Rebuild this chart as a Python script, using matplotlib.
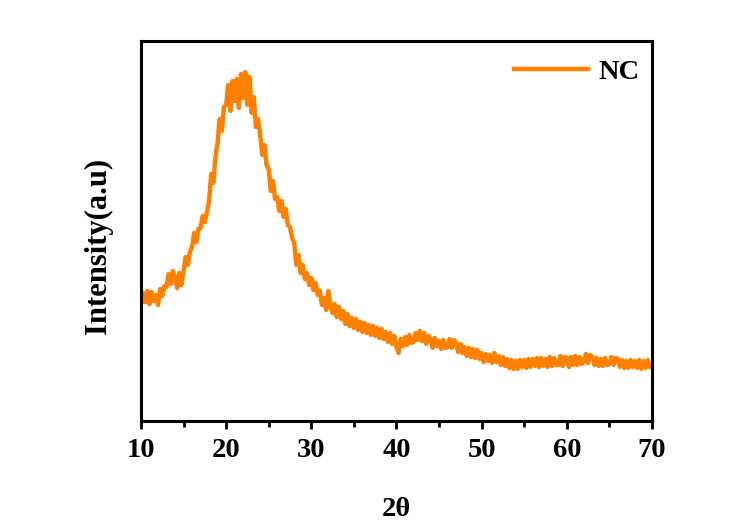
import numpy as np
import matplotlib.pyplot as plt

plt.rcParams['font.family'] = ['Liberation Serif', 'DejaVu Serif']
plt.rcParams['font.weight'] = 'bold'

# XRD pattern of NC, every 0.25 degree (arbitrary units)
two_theta = np.arange(10, 70.01, 0.25)
intensity = [
    116, 128, 119, 130,  117, 129, 120, 126,  116, 132, 125, 135,
    134, 147, 137, 150,  143, 133, 148, 136,  150, 164, 156, 169,
    174, 188, 179, 192,  193, 205, 199, 209,  220, 247, 238, 264,
    278, 302, 290, 314,  316, 336, 310, 340,  320, 342, 313, 347,
    323, 349, 316, 344,  308, 324, 294, 302,  286, 266, 276, 256,
    252, 230, 240, 222,  224, 210, 220, 204,  212, 196, 194, 183,
    178, 156, 166, 148,  156, 142, 148, 136,  143, 131, 138, 126,
    130, 116, 123, 111,  130, 116, 108, 117,  104, 114, 102, 110,
    97, 107, 95, 103,    93, 102, 91, 99,     89, 98, 88, 96,
    86, 95, 85, 93,      83, 92, 82, 89,     79, 88, 77, 85,
    74, 68, 82, 75,      84, 76, 86, 78,     79, 88, 81, 90,
    80, 88, 77, 85,      82, 73, 83, 75,     80, 72, 81, 73,
    74, 82, 73, 81,      78, 69, 77, 68,     74, 65, 73, 64,
    72, 63, 71, 62,      68, 59, 67, 60,     66, 58, 68, 59,
    65, 56, 64, 55,      62, 53, 61, 52,     60, 52, 61, 54,
    61, 53, 62, 54,      62, 55, 63, 54,     63, 55, 62, 54,
    64, 55, 63, 56,      56, 65, 55, 64,     63, 54, 64, 56,
    65, 56, 64, 57,      59, 67, 58, 66,     64, 56, 63, 55,
    62, 55, 63, 56,      57, 64, 56, 63,     62, 54, 61, 53,
    60, 53, 61, 54,      60, 53, 61, 52,     60, 53, 61, 54,
    57,
]

fig = plt.figure(figsize=(7.4, 5.24), dpi=100)
ax = fig.add_axes([0.1905, 0.1966, 0.6905, 0.7252])

ax.plot(two_theta, intensity, color='#ff8000', lw=3.2, label='NC')

ax.set_xlim(10, 70)
ax.set_ylim(0, 380)
ax.set_xticks(range(10, 71, 10))
ax.set_xticks(range(15, 70, 10), minor=True)
ax.set_yticks([])
ax.tick_params(axis='x', which='major', length=6, width=2, labelsize=20.5, pad=6)
ax.tick_params(axis='x', which='minor', length=4, width=2)
for s in ax.spines.values():
    s.set_linewidth(2.2)

ax.set_xlabel('2θ', fontsize=20.5, fontweight='bold', labelpad=25)
ax.set_ylabel('Intensity(a.u)', fontsize=22, fontweight='bold')
ax.yaxis.set_label_coords(-0.055, 0.46)

leg = ax.legend(loc='upper right', bbox_to_anchor=(1.0, 0.985), frameon=False,
                fontsize=20.5, handlelength=2.6, handletextpad=0.35,
                borderaxespad=0.05)

fig.savefig('out.png', dpi=100, facecolor='white')
